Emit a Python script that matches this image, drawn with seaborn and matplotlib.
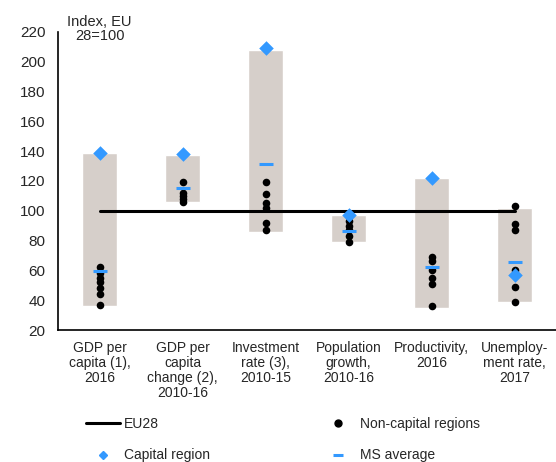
import numpy as np
import pandas as pd
import matplotlib
matplotlib.use("Agg")
import matplotlib.pyplot as plt
from matplotlib.lines import Line2D
import seaborn as sns

# data
categories = ["GDP per\ncapita (1),\n2016", "GDP per\ncapita\nchange (2),\n2010-16",
              "Investment\nrate (3),\n2010-15", "Population\ngrowth,\n2010-16",
              "Productivity,\n2016", "Unemploy-\nment rate,\n2017"]
range_low = [36, 106, 86, 79, 35, 39]
range_high = [139, 137, 208, 97, 122, 102]
capital = [139, 138, 209, 97, 122, 57]
ms_average = [59.5, 115, 131, 86.5, 62.5, 65.5]
non_capital = [
    [62, 58, 55, 52, 48, 44, 37],
    [119, 112, 110, 108, 106],
    [119, 111, 105, 102, 92, 87],
    [93, 90, 87, 83, 79],
    [69, 66, 60, 55, 51, 36],
    [103, 91, 87, 60, 48.5, 39],
]
eu28 = 100

grey = "#D6CFCA"
blue = "#3399FF"

sns.set_style("white")
plt.rcParams["font.family"] = ["Liberation Sans", "DejaVu Sans"]

fig = plt.figure(figsize=(5.56, 4.62), dpi=100)
ax = fig.add_axes([58 / 556, 1 - 330 / 462, 1 - 58 / 556, (330 - 31.7) / 462])

pos = np.arange(len(categories))

# ranges
ax.bar(pos, np.array(range_high) - np.array(range_low), bottom=range_low,
       width=0.41, color=grey, zorder=1)

# EU28 line
ax.plot([pos[0], pos[-1]], [eu28, eu28], color="black", lw=2.2, zorder=2)

# non-capital regions
dots = pd.DataFrame([(i, v) for i, vals in enumerate(non_capital) for v in vals],
                    columns=["pos", "value"])
sns.scatterplot(data=dots, x="pos", y="value", color="black", s=30,
                linewidth=0, ax=ax, zorder=3)

# capital regions
cap = pd.DataFrame({"pos": pos, "value": capital})
sns.scatterplot(data=cap, x="pos", y="value", marker="D", color=blue, s=55,
                linewidth=0, ax=ax, zorder=4)

# MS average
ms = pd.DataFrame({"pos": pos, "value": ms_average})
sns.scatterplot(data=ms, x="pos", y="value", marker="_", color=blue, s=90,
                linewidth=2.2, ax=ax, zorder=5)

ax.set_xlim(-0.5, 5.5)
ax.set_ylim(20, 220)
ax.set_yticks(range(20, 221, 20))
ax.set_xticks(pos)
ax.set_xticklabels(categories, fontsize=10, linespacing=1.1)
ax.tick_params(axis="y", length=0, pad=9, labelsize=11)
ax.tick_params(axis="x", length=0, pad=8)
ax.set_xlabel("")
ax.set_ylabel("")
for s in ["top", "right"]:
    ax.spines[s].set_visible(False)
for s in ["left", "bottom"]:
    ax.spines[s].set_color("black")
    ax.spines[s].set_linewidth(1.2)

ax.text(pos[0], 221.5, "Index, EU\n28=100", ha="center", va="center",
        fontsize=10.5, linespacing=1.0)

handles = [
    Line2D([], [], color="black", lw=2.2),
    Line2D([], [], marker="D", color=blue, lw=0, markersize=4),
    Line2D([], [], marker="o", color="black", lw=0, markersize=5),
    Line2D([], [], marker="_", color=blue, lw=0, markersize=7, markeredgewidth=2.2),
]
labels = ["EU28", "Capital region", "Non-capital regions", "MS average"]
fig.legend(handles, labels, ncol=2, loc="upper left",
           bbox_to_anchor=(86 / 556, 1 - 417 / 462), frameon=False,
           fontsize=10, handlelength=2.45, handletextpad=0.3,
           columnspacing=8.0, labelspacing=1.25, borderpad=0, borderaxespad=0)

fig.savefig("out.png", dpi=100)
